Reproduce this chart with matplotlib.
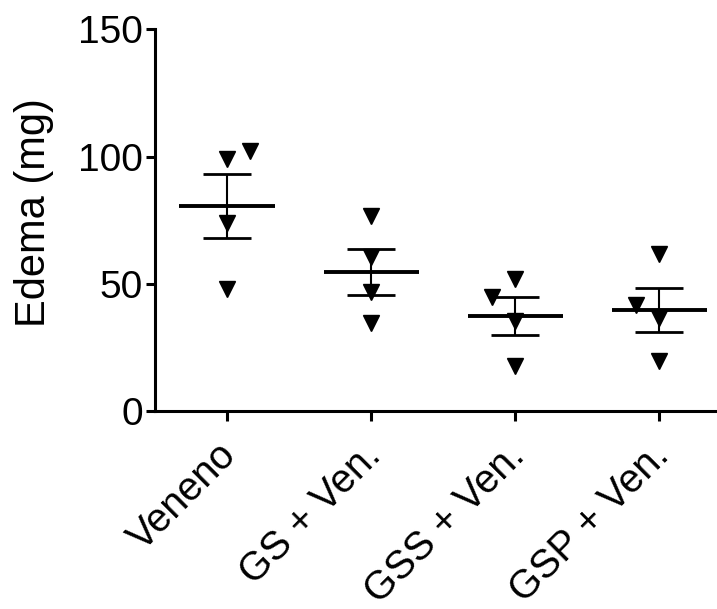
import numpy as np
import matplotlib
matplotlib.use('Agg')
import matplotlib.pyplot as plt
import matplotlib.transforms as mtransforms

plt.rcParams['font.family'] = ['Liberation Sans', 'DejaVu Sans']

# 数据：每组 4 只动物的水肿重量 (mg)
groups = ['Veneno', 'GS + Ven.', 'GSS + Ven.', 'GSP + Ven.']
veneno = [99.0, 102.0, 73.7, 47.8]
gs_ven = [76.7, 60.5, 46.7, 34.7]
gss_ven = [51.7, 44.8, 35.5, 17.7]
gsp_ven = [61.6, 41.6, 36.5, 19.6]
# 重叠点的水平错开量
jitter = [[0, 0.16, 0, 0], [0, 0, 0, 0], [0, -0.16, 0, 0], [0, -0.16, 0, 0]]

series = [veneno, gs_ven, gss_ven, gsp_ven]

fig = plt.figure(figsize=(7.17, 6.09), dpi=100)
ax = fig.add_axes([0.216, 0.325, 0.784, 0.627])

for i, vals in enumerate(series):
    vals = np.array(vals)
    xs = i + np.array(jitter[i])
    ax.plot(xs, vals, linestyle='none', marker='v', markersize=11.5,
            color='black', clip_on=False, zorder=3)
    mean = vals.mean()
    sem = vals.std(ddof=1) / np.sqrt(len(vals))
    # 均值线
    ax.plot([i - 0.33, i + 0.33], [mean, mean], color='black', lw=2.8,
            solid_capstyle='butt', zorder=2)
    # 标准误
    ax.errorbar(i, mean, yerr=sem, fmt='none', ecolor='black',
                elinewidth=1.5, capsize=17, capthick=2, zorder=2)

ax.set_xlim(-0.5, 3.4)
ax.set_ylim(0, 150)
ax.set_yticks([0, 50, 100, 150])
ax.set_xticks(range(len(groups)))
ax.set_xticklabels(groups, rotation=45, ha='right', va='top',
                   rotation_mode='anchor')
ax.set_ylabel('Edema (mg)', fontsize=30)
ax.yaxis.set_label_coords(-0.18, 0.52)

ax.spines['top'].set_visible(False)
ax.spines['right'].set_visible(False)
ax.spines['left'].set_linewidth(2.2)
ax.spines['bottom'].set_linewidth(2.2)
ax.tick_params(axis='y', labelsize=28, width=2.2, length=6.5, pad=2)
ax.tick_params(axis='x', labelsize=28.5, width=2.2, length=7.5, pad=4)

# 斜排标签整体略向左下移
shift = mtransforms.ScaledTranslation(-10 / 100, -9 / 100, fig.dpi_scale_trans)
for lab in ax.get_xticklabels():
    lab.set_transform(lab.get_transform() + shift)

fig.savefig('out.png', dpi=100)
